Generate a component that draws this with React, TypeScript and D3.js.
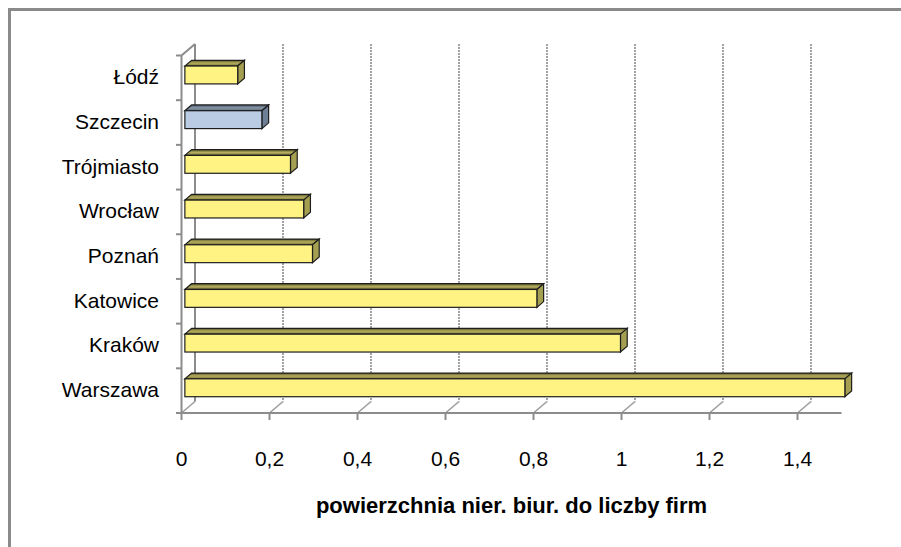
import React from "react";
import * as d3 from "d3";

const categories = ["Łódź", "Szczecin", "Trójmiasto", "Wrocław", "Poznań", "Katowice", "Kraków", "Warszawa"];
const values = [0.12, 0.175, 0.24, 0.27, 0.29, 0.8, 0.99, 1.5];
const highlight = ["Szczecin"];
const tickValues = [0, 0.2, 0.4, 0.6, 0.8, 1, 1.2, 1.4];
const tickLabels = ["0", "0,2", "0,4", "0,6", "0,8", "1", "1,2", "1,4"];
const axisTitle = "powierzchnia nier. biur. do liczby firm";

const W = 901;
const H = 547;
const DX = 13.5;
const DY = -11.5;
const F0 = 0.25;
const F1 = 0.75;
const FONT = "'Liberation Sans', Arial, sans-serif";

export default function App() {
  const x = d3.scaleLinear().domain([0, 1.5]).range([181.5, 841.5]);
  const y = d3.scaleBand<string>().domain(categories).range([55.5, 413]);
  const bw = y.bandwidth();
  const h = bw / 5;
  const axisColor = "#8c8c8c";

  const boundaries = d3.range(categories.length + 1).map((i) => 55.5 + i * bw);

  return (
    <svg width={W} height={H} style={{ position: "absolute", left: 0, top: 0, background: "#fff" }}>
      <defs>
        <linearGradient id="topY" x1="0" y1="0" x2="0" y2="1">
          <stop offset="0" stopColor="#5e5a2a" />
          <stop offset="0.5" stopColor="#b3ac5c" />
          <stop offset="1" stopColor="#7d773c" />
        </linearGradient>
        <linearGradient id="topB" x1="0" y1="0" x2="0" y2="1">
          <stop offset="0" stopColor="#4a5566" />
          <stop offset="0.5" stopColor="#8796a8" />
          <stop offset="1" stopColor="#5f6c7e" />
        </linearGradient>
      </defs>
      <rect x={0} y={0} width={W} height={H} fill="#fff" />
      <rect x={9.5} y={9.5} width={W + 20} height={H + 20} fill="none" stroke="#8a8a8a" strokeWidth={3} />

      {/* back wall gridlines */}
      {tickValues.slice(1).map((v, i) => (
        <line key={"g" + i} x1={x(v) + DX} x2={x(v) + DX} y1={55.5 + DY} y2={413 + DY}
          stroke="#999999" strokeWidth={1.8} strokeDasharray="2,1" />
      ))}
      {/* back-left wall edge */}
      <line x1={x(0) + DX} x2={x(0) + DX} y1={55.5 + DY} y2={413 + DY} stroke={axisColor} strokeWidth={2} />
      <line x1={x(0)} y1={55.5} x2={x(0) + DX} y2={55.5 + DY} stroke={axisColor} strokeWidth={2} />
      {/* floor diagonals */}
      {tickValues.map((v, i) => (
        <line key={"d" + i} x1={x(v)} y1={413} x2={x(v) + DX} y2={413 + DY} stroke="#9a9a9a" strokeWidth={1.5} />
      ))}
      {/* front axes */}
      <line x1={x(0)} x2={x(0)} y1={55.5} y2={413} stroke={axisColor} strokeWidth={2} />
      <line x1={x(0)} x2={x(1.5)} y1={413} y2={413} stroke={axisColor} strokeWidth={2} />
      {tickValues.map((v, i) => (
        <line key={"t" + i} x1={x(v)} x2={x(v)} y1={413} y2={420} stroke={axisColor} strokeWidth={2} />
      ))}
      {boundaries.map((b, i) => (
        <line key={"l" + i} x1={176} x2={x(0)} y1={b} y2={b} stroke={axisColor} strokeWidth={2} />
      ))}

      {/* bars */}
      {categories.map((c, i) => {
        const v = values[i];
        const cy = (y(c) as number) + bw / 2;
        const isB = highlight.includes(c);
        const xa0 = x(0) + F0 * DX;
        const xb0 = x(v) + F0 * DX;
        const xb1 = x(v) + F1 * DX;
        const xa1 = x(0) + F1 * DX;
        const t0 = cy - h + F0 * DY;
        const b0 = cy + h + F0 * DY;
        const t1 = cy - h + F1 * DY;
        const b1 = cy + h + F1 * DY;
        const front = isB ? "#b9cce4" : "#fff384";
        const side = isB ? "#6f7f95" : "#a59f52";
        const top = isB ? "url(#topB)" : "url(#topY)";
        return (
          <g key={c}>
            <polygon points={`${xa0},${t0} ${xb0},${t0} ${xb1},${t1} ${xa1},${t1}`} fill={top} stroke="#1e1e1e" strokeWidth={1.2} />
            <polygon points={`${xb0},${t0} ${xb1},${t1} ${xb1},${b1} ${xb0},${b0}`} fill={side} stroke="#1e1e1e" strokeWidth={1.2} />
            <rect x={xa0} y={t0} width={xb0 - xa0} height={b0 - t0} fill={front} stroke="#1e1e1e" strokeWidth={1.2} />
          </g>
        );
      })}

      {/* category labels */}
      {categories.map((c) => (
        <text key={"c" + c} x={159} y={(y(c) as number) + bw / 2 - 1} textAnchor="end" dominantBaseline="central"
          fontFamily={FONT} fontSize={21} fill="#000">{c}</text>
      ))}
      {/* tick labels */}
      {tickValues.map((v, i) => (
        <text key={"x" + i} x={x(v)} y={458} textAnchor="middle" dominantBaseline="central"
          fontFamily={FONT} fontSize={21} fill="#000">{tickLabels[i]}</text>
      ))}
      <text x={(x(0) + x(1.5)) / 2} y={505} textAnchor="middle" dominantBaseline="central"
        fontFamily={FONT} fontSize={22} fontWeight="bold" fill="#000">{axisTitle}</text>
    </svg>
  );
}
